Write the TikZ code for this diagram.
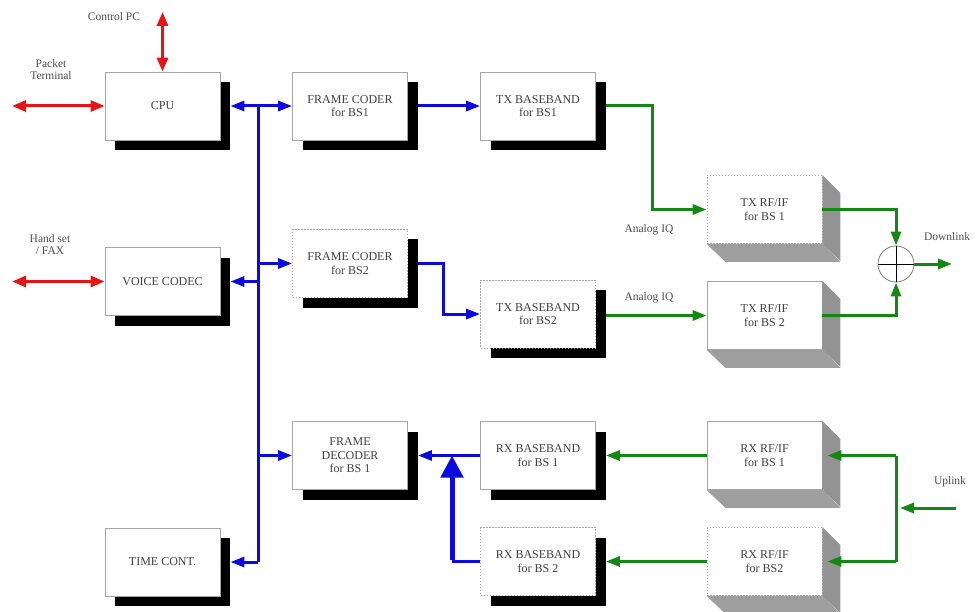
\documentclass[tikz,border=0pt]{standalone}
\usepackage{fontspec}
\setmainfont{Liberation Serif}
\usetikzlibrary{arrows.meta,shadows}
\definecolor{cred}{RGB}{230,20,20}
\definecolor{cblue}{RGB}{10,10,225}
\definecolor{cgreen}{RGB}{20,135,20}
\begin{document}
\begin{tikzpicture}[x=1pt,y=-1pt,
  box/.style={draw=gray!70, line width=0.8pt, fill=white, minimum width=115pt, minimum height=68pt,
    inner sep=1pt, align=center, font=\fontsize{12}{13.5}\selectfont, text=black!75},
  sbox/.style={box, general shadow={fill=black, shadow xshift=10pt, shadow yshift=-10pt}},
  dbox/.style={dash pattern=on 1.5pt off 1.5pt},
  lbl/.style={align=center, font=\fontsize{11.5}{12}\selectfont, text=black!70, inner sep=0pt},
  rarrow/.style={draw=cred, line width=3pt, {Triangle[length=14pt,width=11pt]}-{Triangle[length=14pt,width=11pt]}},
  bline/.style={draw=cblue, line width=3pt},
  barrow/.style={bline, -{Triangle[length=14pt,width=10pt]}},
  bigarrow/.style={draw=cblue, line width=5pt, -{Triangle[length=22pt,width=22pt]}},
  gline/.style={draw=cgreen, line width=3pt},
  garrow/.style={gline, -{Triangle[length=14pt,width=10pt]}},
  rface/.style={fill=gray!85},
  bface/.style={fill=gray!75}
]
\useasboundingbox (0,0) rectangle (976,612);

% left column
\node[sbox] (cpu) at (162.5,106) {CPU};
\node[sbox] (voice) at (162.5,281.5) {VOICE CODEC};
\node[sbox] (time) at (162.5,562) {TIME CONT.};

% frame coders
\node[sbox] (fc1) at (350,106) {FRAME CODER\\for BS1};
\node[sbox,dbox] (fc2) at (350,263.5) {FRAME CODER\\for BS2};
\node[sbox] (fd) at (350,455.5) {FRAME\\DECODER\\for BS 1};

% basebands
\node[sbox] (txb1) at (538,106) {TX BASEBAND\\for BS1};
\node[sbox,dbox] (txb2) at (538,314) {TX BASEBAND\\for BS2};
\node[sbox] (rxb1) at (538,455.5) {RX BASEBAND\\for BS 1};
\node[sbox,dbox] (rxb2) at (538,561.5) {RX BASEBAND\\for BS 2};

% RF boxes (3D)
\node[box,dbox] (tr1) at (764.5,209.5) {TX RF/IF\\for BS 1};
\node[box] (tr2) at (764.5,315.5) {TX RF/IF\\for BS 2};
\node[box] (rr1) at (764.5,455.5) {RX RF/IF\\for BS 1};
\node[box,dbox] (rr2) at (764.5,561.5) {RX RF/IF\\for BS2};
\foreach \n in {tr1,tr2,rr1,rr2}{
  \fill[rface] (\n.north east) -- ++(18,18) -- ++(0,68) -- (\n.south east) -- cycle;
  \fill[bface] (\n.south west) -- (\n.south east) -- ++(18,18) -- ++(-115,0) -- cycle;
}

% summing junction
\node[circle, draw=gray, line width=0.8pt, minimum size=36pt, inner sep=0pt] (sum) at (896,264) {};
\draw[black, line width=0.8pt] (sum.north) -- (sum.south) (sum.west) -- (sum.east);

% labels
\node[lbl] (lpc) at (114,17) {Control PC};
\node[lbl] (lpt) at (51,70) {Packet\\Terminal};
\node[lbl] (lhs) at (50,245) {Hand set\\/ FAX};
\node[lbl] (liq1) at (649,230) {Analog IQ};
\node[lbl] (liq2) at (649,298) {Analog IQ};
\node[lbl] (ldl) at (947,237) {Downlink};
\node[lbl] (lul) at (950,482) {Uplink};

% red arrows
\coordinate (pc) at (162.5,12);
\coordinate (pt) at (12,106);
\coordinate (hs) at (12,281.5);
\draw[rarrow] (pc) -- (cpu.north);
\draw[rarrow] (pt) -- (cpu.west);
\draw[rarrow] (hs) -- (voice.west);

% blue bus
\coordinate (bt) at (258,106);
\coordinate (bb) at (258,562);
\draw[bline] (bt) -- (bb);
\draw[barrow] (bt) -- ([xshift=10pt]cpu.east);
\draw[barrow] (bt) -- (fc1.west);
\draw[barrow] (bt |- fc2.west) -- (fc2.west);
\draw[barrow] (bt |- voice.east) -- ([xshift=10pt]voice.east);
\draw[barrow] (bt |- fd.west) -- (fd.west);
\draw[barrow] (bb) -- ([xshift=10pt]time.east);
\draw[barrow] ([xshift=10pt]fc1.east) -- (txb1.west);
\draw[barrow] ([xshift=10pt]fc2.east) -- ++(26,0) |- (txb2.west);
\draw[barrow] (rxb1.west) -- ([xshift=10pt]fd.east);
\coordinate (uj2) at (452,455.5);
\draw[bline] (rxb2.west) -- (rxb2.west -| uj2);
\draw[bigarrow] ([yshift=1.5pt]rxb2.west -| uj2) -- (uj2);

% green TX
\coordinate (tj) at (652,106);
\draw[garrow] ([xshift=10pt]txb1.east) -- (tj) |- (tr1.west);
\draw[garrow] ([xshift=10pt]txb2.east |- tr2.west) -- (tr2.west);
\draw[garrow] (tr1.east) -| (sum.north);
\draw[garrow] (tr2.east) -| (sum.south);
\coordinate (dl) at (952,264);
\draw[garrow] (sum.east) -- (dl);

% green RX
\coordinate (ul) at (956,508);
\coordinate (uj) at (896,508);
\coordinate (ut) at (896,455.5);
\coordinate (ub) at (896,561.5);
\draw[gline] (ut) -- (ub);
\draw[garrow] (ul) -- ([xshift=4pt]uj);
\draw[garrow] (ut) -- ([xshift=5pt]rr1.east);
\draw[garrow] (ub) -- ([xshift=5pt]rr2.east);
\draw[garrow] (rr1.west) -- ([xshift=10pt]rxb1.east);
\draw[garrow] (rr2.west) -- ([xshift=10pt]rxb2.east);
\end{tikzpicture}
\end{document}
